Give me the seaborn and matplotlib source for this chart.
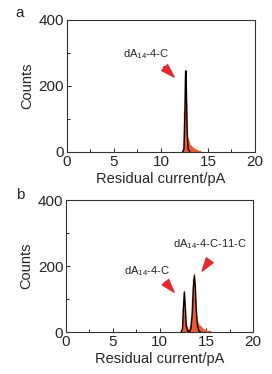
import numpy as np
import pandas as pd
import matplotlib
matplotlib.use("Agg")
import matplotlib.pyplot as plt
import seaborn as sns

# -----------------------------
# DATA
# -----------------------------
bin_width = 0.1

# panel a: dA14-4-C only
a_centers = [12.45, 12.55, 12.65, 12.75, 12.85, 12.95, 13.05, 13.15, 13.25, 13.35,
             13.45, 13.55, 13.65, 13.75, 13.85, 13.95, 14.05, 14.15, 14.25, 14.35]
a_counts = [5, 120, 248, 150, 45, 40, 30, 22, 18, 15,
            12, 10, 8, 7, 6, 5, 4, 3, 2, 1]
a_fit_x = [12.3, 12.45, 12.55, 12.62, 12.66, 12.72, 12.8, 12.9, 13.1]
a_fit_y = [0, 8, 110, 225, 245, 180, 60, 8, 0]

# panel b: dA14-4-C + dA14-4-C-11-C
b_centers = [12.35, 12.45, 12.55, 12.65, 12.75, 12.85, 12.95, 13.05, 13.15, 13.25,
             13.35, 13.45, 13.55, 13.65, 13.75, 13.85, 13.95, 14.05, 14.15, 14.25,
             14.35, 14.45, 14.55, 14.65, 14.75, 14.85, 14.95, 15.05, 15.15, 15.25,
             15.35, 15.45, 15.55]
b_counts = [3, 15, 70, 125, 70, 25, 15, 10, 10, 12,
            20, 40, 100, 160, 175, 100, 50, 35, 28, 22,
            18, 15, 12, 10, 8, 7, 6, 5, 4, 3,
            3, 2, 1]
b_fit_x = [12.3, 12.45, 12.55, 12.65, 12.75, 12.85, 13.0, 13.2, 13.35, 13.5,
           13.6, 13.72, 13.82, 13.92, 14.05, 14.2, 14.4]
b_fit_y = [0, 10, 75, 120, 75, 20, 3, 2, 10, 60,
           130, 170, 140, 70, 20, 4, 0]

xticks = [0, 5, 10, 15, 20]
yticks = [0, 200, 400]

orange = "#F15A29"
red = "#E8262B"

sns.set_style("ticks")
plt.rcParams["font.family"] = ["Liberation Sans", "DejaVu Sans"]
plt.rcParams["mathtext.default"] = "regular"

fig = plt.figure(figsize=(2.72, 3.74), dpi=100)
ax_a = fig.add_axes([0.246, 0.594, 0.691, 0.353])
ax_b = fig.add_axes([0.243, 0.112, 0.6875, 0.353])


def draw_panel(ax, centers, counts, fit_x, fit_y):
    df = pd.DataFrame({"current": centers, "count": counts})
    lo = centers[0] - bin_width / 2
    hi = centers[-1] + bin_width / 2
    sns.histplot(data=df, x="current", weights="count", binwidth=bin_width,
                 binrange=(lo, hi), color=orange, alpha=1,
                 edgecolor=orange, linewidth=0.3, ax=ax)
    sns.lineplot(x=fit_x, y=fit_y, color="black", linewidth=1.0, ax=ax)
    ax.set_xlim(0, 20)
    ax.set_ylim(0, 400)
    ax.set_xticks(xticks)
    ax.set_yticks(yticks)
    ax.set_xticks([2.5, 7.5, 12.5, 17.5], minor=True)
    ax.set_yticks([100, 300], minor=True)
    ax.tick_params(which="both", direction="in", labelsize=11, pad=2)
    ax.tick_params(which="major", length=3, width=0.7)
    ax.tick_params(which="minor", length=2, width=0.7)
    for s in ax.spines.values():
        s.set_visible(True)
        s.set_linewidth(0.8)
        s.set_color("#333333")
    ax.set_xlabel("Residual current/pA", fontsize=10.5, labelpad=2.5)
    ax.set_ylabel("Counts", fontsize=10.5, labelpad=3)


def arrow(ax, tail, tip):
    ax.annotate("", xy=tip, xytext=tail,
                arrowprops=dict(facecolor=red, edgecolor=red, width=0.01,
                                headwidth=6, headlength=9.5, shrink=0))


draw_panel(ax_a, a_centers, a_counts, a_fit_x, a_fit_y)
ax_a.text(8.4, 297, "dA$_{14}$-4-C", fontsize=8, ha="center", va="center")
arrow(ax_a, (10.3, 258), (11.4, 227))

draw_panel(ax_b, b_centers, b_counts, b_fit_x, b_fit_y)
ax_b.text(8.6, 185, "dA$_{14}$-4-C", fontsize=8, ha="center", va="center")
ax_b.text(15.35, 267, "dA$_{14}$-4-C-11-C", fontsize=8, ha="center", va="center")
arrow(ax_b, (10.6, 152), (11.55, 121))
arrow(ax_b, (15.3, 215), (14.55, 185))

fig.text(20 / 272, 1 - 13 / 374, "a", fontsize=11, ha="center", va="center")
fig.text(20 / 272, 1 - 195 / 374, "b", fontsize=11, ha="center", va="center")

fig.savefig("out.png", dpi=100)
